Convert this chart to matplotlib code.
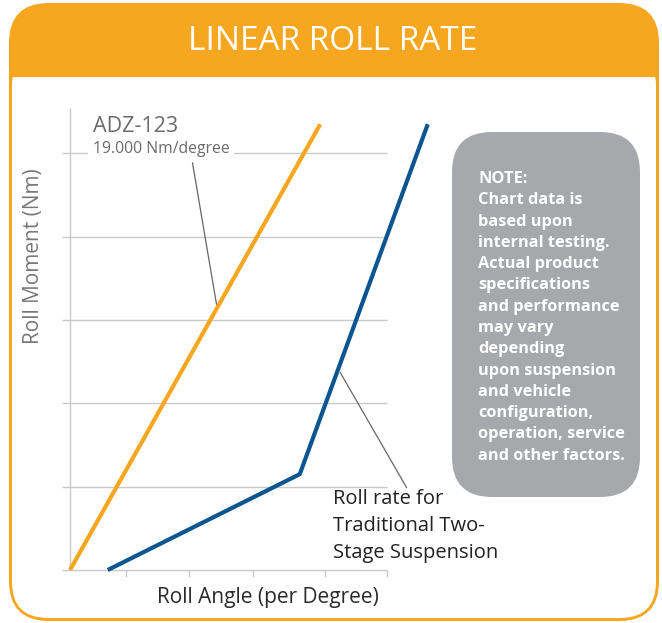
import matplotlib
matplotlib.use("Agg")
import matplotlib.pyplot as plt
from matplotlib.patches import FancyBboxPatch, Rectangle

plt.rcParams["font.family"] = ["Open Sans", "DejaVu Sans"]

# data (roll angle in degrees-ish units, roll moment in grid units)
angle_adz = [0.0, 3.91]
moment_adz = [0.0, 5.35]
angle_trad = [0.59, 3.59, 5.59]
moment_trad = [0.0, 1.15, 5.35]
x_ticks = [0.875, 1.86, 2.86, 3.98, 4.95]
y_grid = [1, 2, 3, 4, 5]

ORANGE = "#F7A620"
BLUE = "#0B5591"
GRID = "#C9C9C9"
NOTE_GRAY = "#A6A8AB"

note_text = ("NOTE:\nChart data is\nbased upon\ninternal testing.\nActual product\n"
             "specifications\nand performance\nmay vary\ndepending\nupon suspension\n"
             "and vehicle\nconfiguration,\noperation, service\nand other factors.")
trad_lines = ["Roll rate for", "Traditional Two-", "Stage Suspension"]

fig = plt.figure(figsize=(6.62, 6.23), dpi=100)

# background / frame in pixel coordinates
bg = fig.add_axes([0, 0, 1, 1], zorder=0)
bg.set_xlim(0, 662)
bg.set_ylim(623, 0)
bg.axis("off")

bg.add_patch(FancyBboxPatch((9, 3), 650, 618, boxstyle="round,pad=0,rounding_size=40",
                            fc=ORANGE, ec="none"))
bg.add_patch(FancyBboxPatch((12, 50), 644, 568, boxstyle="round,pad=0,rounding_size=36",
                            fc="white", ec="none"))
bg.add_patch(Rectangle((12, 45), 644, 32, fc=ORANGE, ec="none"))
bg.text(333, 42, "LINEAR ROLL RATE", color="white", fontsize=24, ha="center", va="center")

# note box
bg.add_patch(FancyBboxPatch((452, 132), 188, 365, boxstyle="round,pad=0,rounding_size=40",
                            fc=NOTE_GRAY, ec="none"))
bg.text(478, 171, note_text, color="white", fontsize=11.8, fontweight="bold",
        ha="left", va="top", linespacing=1.44)

# plot area
ax = fig.add_axes([70 / 662, 53 / 623, 400 / 662, 462 / 623], zorder=1)
ax.set_xlim(0, 400 / 64)
ax.set_ylim(0, 462 / 83.33)
ax.axis("off")
ax.patch.set_visible(False)

ax.hlines(y_grid, -0.125, 4.95, color=GRID, lw=1, clip_on=False, zorder=1)
ax.hlines(0, -0.125, 4.95, color=GRID, lw=1, clip_on=False, zorder=1)
ax.vlines(0, 0, 462 / 83.33, color=GRID, lw=1, clip_on=False, zorder=1)
ax.vlines(x_ticks, -0.09, 0, color=GRID, lw=1, clip_on=False, zorder=1)

ax.plot(angle_adz, moment_adz, color=ORANGE, lw=3.0, clip_on=False, zorder=3,
        solid_capstyle="butt")
ax.plot(angle_trad, moment_trad, color=BLUE, lw=3.0, clip_on=False, zorder=3,
        solid_capstyle="butt")

# leader lines
ax.annotate("", xy=(angle_adz[1] * 0.588, moment_adz[1] * 0.588), xytext=(192, 160),
            textcoords=bg.transData,
            arrowprops=dict(arrowstyle="-", color="#666666", lw=0.9), zorder=2)
ax.annotate("", xy=(4.2, 2.4), xytext=(408, 490), textcoords=bg.transData,
            arrowprops=dict(arrowstyle="-", color="#666666", lw=0.9), zorder=2)

ax.text(93, 126, "ADZ-123", transform=bg.transData, color="#6B6B6B", fontsize=15.5,
        ha="left", va="center", zorder=4)
ax.text(93, 149, "19.000 Nm/degree", transform=bg.transData, color="#6B6B6B", fontsize=11.3,
        ha="left", va="center", zorder=4,
        bbox=dict(boxstyle="square,pad=0.3", fc="white", ec="none"))

for i, line in enumerate(trad_lines):
    ax.text(333, 499 + i * 27, line, transform=bg.transData, color="#222222",
            fontsize=14.5, ha="left", va="center", zorder=4)

bg.text(268, 598, "Roll Angle (per Degree)", color="#2A2A2A", fontsize=15,
        ha="center", va="center")
bg.text(34, 256, "Roll Moment (Nm)", color="#777777", fontsize=15,
        ha="center", va="center", rotation=90)

fig.savefig("out.png", dpi=100)
